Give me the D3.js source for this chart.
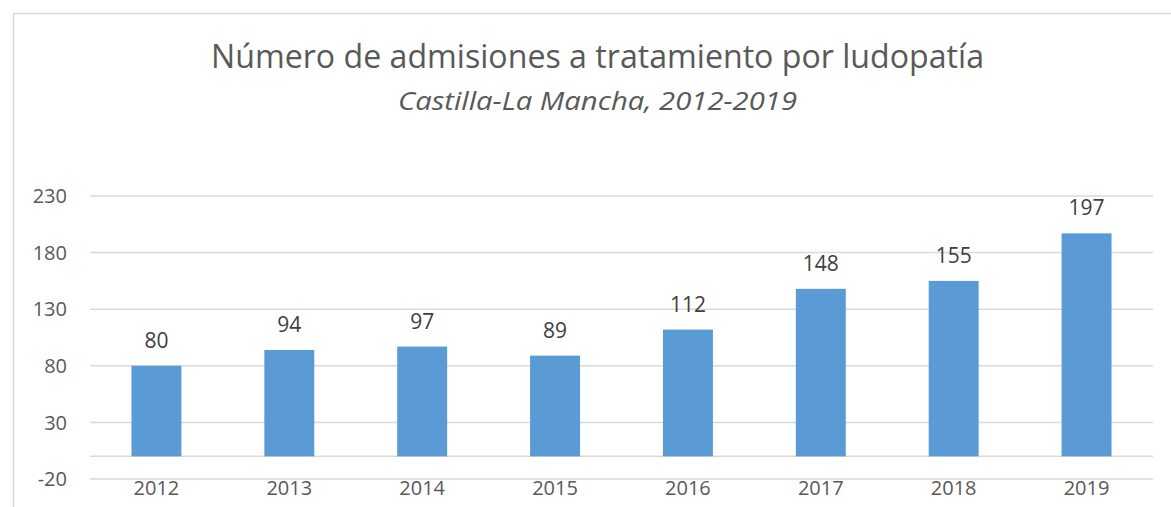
<!DOCTYPE html>
<html>
<head>
<meta charset="utf-8">
<script src="https://cdn.jsdelivr.net/npm/d3@7"></script>
<style>
  body { margin: 0; background: #fff; }
  text { font-family: "Open Sans", sans-serif; }
</style>
</head>
<body>
<div id="chart"></div>
<script>
// data
var years = ["2012", "2013", "2014", "2015", "2016", "2017", "2018", "2019"];
var admissions = [80, 94, 97, 89, 112, 148, 155, 197];
var yTicks = [-20, 30, 80, 130, 180, 230];
var titleText = "Número de admisiones a tratamiento por ludopatía";
var subtitleText = "Castilla-La Mancha, 2012-2019";

var W = 1171, H = 507;

var svg = d3.select("#chart")
  .append("svg")
  .attr("width", W)
  .attr("height", H);

// chart area border (right and bottom edges fall outside the picture)
svg.append("rect")
  .attr("x", 13.5)
  .attr("y", 13.5)
  .attr("width", W + 20)
  .attr("height", H + 20)
  .attr("fill", "none")
  .attr("stroke", "#d9d9d9")
  .attr("stroke-width", 1.5);

// titles
svg.append("text")
  .attr("x", 597.5)
  .attr("y", 68)
  .attr("text-anchor", "middle")
  .attr("textLength", 773)
  .attr("lengthAdjust", "spacingAndGlyphs")
  .style("font-size", "32px")
  .style("fill", "#595959")
  .text(titleText);

svg.append("text")
  .attr("x", 597.5)
  .attr("y", 110)
  .attr("text-anchor", "middle")
  .attr("textLength", 399)
  .attr("lengthAdjust", "spacingAndGlyphs")
  .style("font-size", "25px")
  .style("font-style", "italic")
  .style("fill", "#595959")
  .text(subtitleText);

// scales
var x = d3.scaleBand()
  .domain(years)
  .range([90, 1153])
  .paddingInner(0.624)
  .paddingOuter(0.312);

var y = d3.scaleLinear()
  .domain([-20, 230])
  .range([479, 196]);

// gridlines
svg.append("g")
  .selectAll("line")
  .data(yTicks.concat([0]))
  .enter()
  .append("line")
  .attr("x1", 90)
  .attr("x2", 1153)
  .attr("y1", d => y(d))
  .attr("y2", d => y(d))
  .attr("stroke", "#d9d9d9")
  .attr("stroke-width", 1.5);

// y tick labels
svg.append("g")
  .selectAll("text")
  .data(yTicks)
  .enter()
  .append("text")
  .attr("x", 67)
  .attr("y", d => y(d))
  .attr("dy", "0.36em")
  .attr("text-anchor", "end")
  .style("font-size", "20px")
  .style("fill", "#595959")
  .text(d => d);

// bars
svg.append("g")
  .selectAll("rect")
  .data(admissions)
  .enter()
  .append("rect")
  .attr("x", (d, i) => x(years[i]))
  .attr("width", x.bandwidth())
  .attr("y", d => y(d))
  .attr("height", d => y(0) - y(d))
  .attr("fill", "#5b9bd5");

// value labels
svg.append("g")
  .selectAll("text")
  .data(admissions)
  .enter()
  .append("text")
  .attr("x", (d, i) => x(years[i]) + x.bandwidth() / 2)
  .attr("y", d => y(d) - 18)
  .attr("text-anchor", "middle")
  .style("font-size", "21px")
  .style("fill", "#404040")
  .text(d => d);

// x axis labels
svg.append("g")
  .selectAll("text")
  .data(years)
  .enter()
  .append("text")
  .attr("x", d => x(d) + x.bandwidth() / 2)
  .attr("y", 495)
  .attr("text-anchor", "middle")
  .style("font-size", "20px")
  .style("fill", "#595959")
  .text(d => d);
</script>
</body>
</html>
